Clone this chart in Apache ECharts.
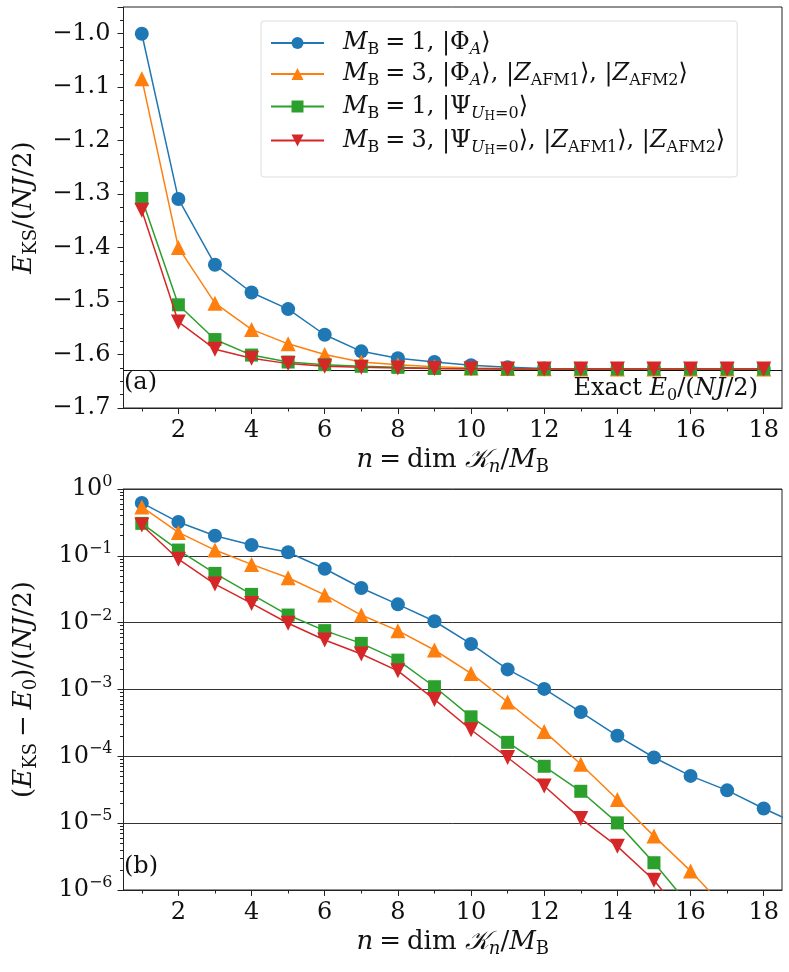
<!doctype html>
<html>
<head>
<meta charset="utf-8">
<title>Krylov subspace energies</title>
<script src="https://cdn.jsdelivr.net/npm/echarts@6/dist/echarts.min.js"></script>
<style>
  html, body { margin: 0; padding: 0; background: #fff; }
  #main { width: 789px; height: 972px; }
</style>
</head>
<body>
<div id="main"></div>
<script>
// n values (x axis)
var nTop = [1, 2, 3, 4, 5, 6, 7, 8, 9, 10, 11, 12, 13, 14, 15, 16, 17, 18];
var nBottom = [1, 2, 3, 4, 5, 6, 7, 8, 9, 10, 11, 12, 13, 14, 15, 16, 17, 18, 19];

// panel (a): E_KS/(NJ/2)
var exactE0 = -1.627;
var topBlue = [-1.000, -1.309, -1.432, -1.484, -1.515, -1.563, -1.594, -1.607, -1.614, -1.620, -1.624, -1.626, -1.6265, -1.627, -1.627, -1.627, -1.627, -1.627];
var topOrange = [-1.084, -1.400, -1.504, -1.553, -1.580, -1.600, -1.614, -1.619, -1.623, -1.625, -1.6263, -1.6268, -1.627, -1.627, -1.627, -1.627, -1.627, -1.627];
var topGreen = [-1.308, -1.507, -1.572, -1.601, -1.614, -1.619, -1.622, -1.624, -1.626, -1.6266, -1.627, -1.627, -1.627, -1.627, -1.627, -1.627, -1.627, -1.627];
var topRed = [-1.330, -1.539, -1.590, -1.607, -1.617, -1.622, -1.6236, -1.625, -1.6263, -1.6267, -1.627, -1.627, -1.627, -1.627, -1.627, -1.627, -1.627, -1.627];

// panel (b): (E_KS - E0)/(NJ/2)
var diffBlue = [0.62, 0.32, 0.20, 0.145, 0.113, 0.064, 0.033, 0.0188, 0.0105, 0.0048, 0.0020, 0.00102, 4.6e-4, 2.03e-4, 9.6e-5, 5.1e-5, 3.1e-5, 1.66e-5, 9.3e-6];
var diffOrange = [0.54, 0.224, 0.122, 0.0745, 0.047, 0.026, 0.013, 0.0076, 0.0039, 0.00174, 6.5e-4, 2.36e-4, 7.6e-5, 2.26e-5, 6.4e-6, 1.93e-6, 5.0e-7];
var diffGreen = [0.306, 0.122, 0.0546, 0.0265, 0.013, 0.0076, 0.0049, 0.00275, 0.0011, 3.9e-4, 1.62e-4, 7.1e-5, 3.0e-5, 1.01e-5, 2.56e-6, 5.6e-7];
var diffRed = [0.29, 0.089, 0.0378, 0.0194, 0.0098, 0.0055, 0.0034, 0.0019, 7.1e-4, 2.5e-4, 9.6e-5, 3.6e-5, 1.17e-5, 4.5e-6, 1.4e-6, 3.0e-7];

// ticks
var xMajor = [2, 4, 6, 8, 10, 12, 14, 16, 18];
var xMinor = [1, 3, 5, 7, 9, 11, 13, 15, 17];
var decades = [1e-6, 1e-5, 1e-4, 1e-3, 1e-2, 1e-1, 1];
var decadeMinor = [];
decades.slice(0, 6).forEach(function (d) {
    for (var k = 2; k <= 9; k++) decadeMinor.push(d * k);
});

var names = ['b1', 'o3', 'g1', 'r3'];
var colors = ['#1f77b4', '#ff7f0e', '#2ca02c', '#d62728'];
var symbols = ['circle', 'triangle', 'rect', 'triangle'];
var symbolSizes = [14, 15, 13, 15];
var rotates = [0, 0, 0, 180];

var FONT = 'DejaVu Serif';
var TICK = 24;

// rich text styles for a given base size (subscripts pushed down by top padding)
function makeRich(F) {
    var lh = Math.round(F * 1.2);
    var s = Math.round(F * 0.68);
    var off = Math.round(F * 0.28);
    var ss = Math.round(F * 0.5);
    return {
        r: { fontFamily: FONT, fontSize: F, lineHeight: lh, color: '#111' },
        i: { fontFamily: FONT, fontSize: F, lineHeight: lh, fontStyle: 'italic', color: '#111' },
        eq: { fontFamily: FONT, fontSize: F, lineHeight: lh, color: '#111', padding: [0, 6, 0, 6] },
        sub: { fontFamily: FONT, fontSize: s, lineHeight: lh - 2 * off, padding: [2 * off, 0, 0, 0], color: '#111' },
        isub: { fontFamily: FONT, fontSize: s, lineHeight: lh - 2 * off, padding: [2 * off, 0, 0, 0], fontStyle: 'italic', color: '#111' },
        ssub: { fontFamily: FONT, fontSize: ss, lineHeight: lh - 3 * off, padding: [3 * off, 0, 0, 0], color: '#111' },
        sup: { fontFamily: FONT, fontSize: s, lineHeight: lh - 2 * off, padding: [0, 0, 2 * off, 0], color: '#111' },
        sp: { width: 14 }
    };
}
var richTick = makeRich(TICK);
var richName = makeRich(26);
var richLegend = makeRich(24);

var legendText = {
    b1: '{sp|}{i|M}{sub|B}{eq|=}{r|1, |Φ}{isub|A}{r|⟩}',
    o3: '{sp|}{i|M}{sub|B}{eq|=}{r|3, |Φ}{isub|A}{r|⟩, |}{i|Z}{sub|AFM1}{r|⟩, |}{i|Z}{sub|AFM2}{r|⟩}',
    g1: '{sp|}{i|M}{sub|B}{eq|=}{r|1, |Ψ}{isub|U}{ssub|H}{sub|=0}{r|⟩}',
    r3: '{sp|}{i|M}{sub|B}{eq|=}{r|3, |Ψ}{isub|U}{ssub|H}{sub|=0}{r|⟩, |}{i|Z}{sub|AFM1}{r|⟩, |}{i|Z}{sub|AFM2}{r|⟩}'
};

function pairs(xs, ys) {
    return ys.map(function (y, k) { return [xs[k], y]; });
}

function minusFmt(v) {
    if (Math.abs(v * 10 - Math.round(v * 10)) > 1e-6) return '';
    return (v < 0 ? '\u2212' : '') + Math.abs(v).toFixed(1);
}

var xName = '{i|n}{eq|=}{r|dim }{i|𝒦}{isub|n}{r|/}{i|M}{sub|B}';

function xAxisPair(grid) {
    return [{
        type: 'value', gridIndex: grid, min: 0.5, max: 18.5, position: 'bottom',
        name: xName, nameLocation: 'middle', nameGap: 36,
        nameTextStyle: { rich: richName },
        axisLine: { lineStyle: { color: '#222', width: 1 } },
        axisTick: { customValues: xMajor, length: 6, lineStyle: { color: '#222' } },
        axisLabel: { customValues: xMajor, fontFamily: FONT, fontSize: TICK, color: '#111', margin: 11 },
        splitLine: { show: false }
    }, {
        type: 'value', gridIndex: grid, min: 0.5, max: 18.5, position: 'bottom',
        axisLine: { show: false },
        axisTick: { customValues: xMinor, length: 3.5, lineStyle: { color: '#222' } },
        axisLabel: { show: false },
        splitLine: { show: false }
    }];
}

var xAxes = xAxisPair(0).concat(xAxisPair(1));

var yAxes = [{
    type: 'value', gridIndex: 0, min: -1.7, max: -0.95, interval: 0.1, position: 'left',
    name: '{i|E}{sub|KS}{r|/(}{i|NJ}{r|/2)}', nameLocation: 'middle', nameGap: 84,
    nameTextStyle: { rich: richName },
    axisLine: { lineStyle: { color: '#222' } },
    axisTick: { length: 6, lineStyle: { color: '#222' } },
    minorTick: { show: true, splitNumber: 4, length: 3.5, lineStyle: { color: '#222' } },
    axisLabel: { formatter: minusFmt, fontFamily: FONT, fontSize: TICK, color: '#111', margin: 13 },
    splitLine: { show: false }
}, {
    type: 'log', logBase: 10, gridIndex: 1, min: 1e-6, max: 1, position: 'left',
    name: '{r|(}{i|E}{sub|KS}{eq|\u2212}{i|E}{sub|0}{r|)/(}{i|NJ}{r|/2)}', nameLocation: 'middle', nameGap: 84,
    nameTextStyle: { rich: richName },
    axisLine: { lineStyle: { color: '#222' } },
    axisTick: { customValues: decades, length: 6, lineStyle: { color: '#222' } },
    axisLabel: {
        customValues: decades, margin: 11, rich: richTick,
        formatter: function (v) {
            var e = Math.round(Math.log10(v));
            return '{r|10}{sup|' + (e < 0 ? '\u2212' + (-e) : e) + '}';
        }
    },
    splitLine: { show: true, lineStyle: { color: '#333', width: 1 } }
}, {
    type: 'log', logBase: 10, gridIndex: 1, min: 1e-6, max: 1, position: 'left',
    axisLine: { show: false },
    axisTick: { customValues: decadeMinor, length: 3.5, lineStyle: { color: '#222' } },
    axisLabel: { show: false },
    splitLine: { show: false }
}];

var topData = [topBlue, topOrange, topGreen, topRed];
var bottomData = [diffBlue, diffOrange, diffGreen, diffRed];

var series = [];
names.forEach(function (nm, k) {
    var s = {
        name: nm, type: 'line', xAxisIndex: 0, yAxisIndex: 0,
        data: pairs(nTop, topData[k]),
        symbol: symbols[k], symbolSize: symbolSizes[k], symbolRotate: rotates[k],
        showAllSymbol: true, clip: true,
        lineStyle: { color: colors[k], width: 1.5 },
        itemStyle: { color: colors[k] },
        z: 3 + k, animation: false
    };
    if (k === 0) {
        s.markLine = {
            silent: true, symbol: ['none', 'none'],
            lineStyle: { color: '#111', width: 1.2, type: 'solid' },
            data: [{ yAxis: exactE0 }],
            label: {
                position: 'insideEndBottom', distance: [24, 4], rich: richTick,
                formatter: '{r|Exact }{i|E}{sub|0}{r|/(}{i|NJ}{r|/2)}'
            }
        };
    }
    series.push(s);
});
names.forEach(function (nm, k) {
    series.push({
        name: nm, type: 'line', xAxisIndex: 2, yAxisIndex: 1,
        data: pairs(nBottom, bottomData[k]),
        symbol: symbols[k], symbolSize: symbolSizes[k], symbolRotate: rotates[k],
        showAllSymbol: true, clip: true,
        lineStyle: { color: colors[k], width: 1.5 },
        itemStyle: { color: colors[k] },
        z: 3 + k, animation: false
    });
});

var chart = echarts.init(document.getElementById('main'));
chart.setOption({
    animation: false,
    backgroundColor: '#fff',
    grid: [
        { left: 115, right: 7, top: 7, height: 401, show: true, borderColor: '#222', borderWidth: 1, backgroundColor: 'transparent' },
        { left: 115, right: 7, top: 489, height: 401, show: true, borderColor: '#222', borderWidth: 1, backgroundColor: 'transparent' }
    ],
    legend: {
        data: names, orient: 'vertical', left: 261, top: 21,
        padding: [7, 12, 20, 9], itemGap: 1, itemWidth: 53, itemHeight: 15,
        backgroundColor: 'rgba(255,255,255,0.85)', borderColor: '#ddd', borderWidth: 1, borderRadius: 3,
        formatter: function (name) { return legendText[name]; },
        textStyle: { rich: richLegend }
    },
    xAxis: xAxes,
    yAxis: yAxes,
    graphic: [
        { type: 'text', left: 124, top: 371, style: { text: '(a)', font: TICK + 'px "' + FONT + '"', fill: '#111' } },
        { type: 'text', left: 124, top: 855, style: { text: '(b)', font: TICK + 'px "' + FONT + '"', fill: '#111' } }
    ],
    series: series
});

window.addEventListener('resize', function () {
    chart.resize();
});
</script>
</body>
</html>
